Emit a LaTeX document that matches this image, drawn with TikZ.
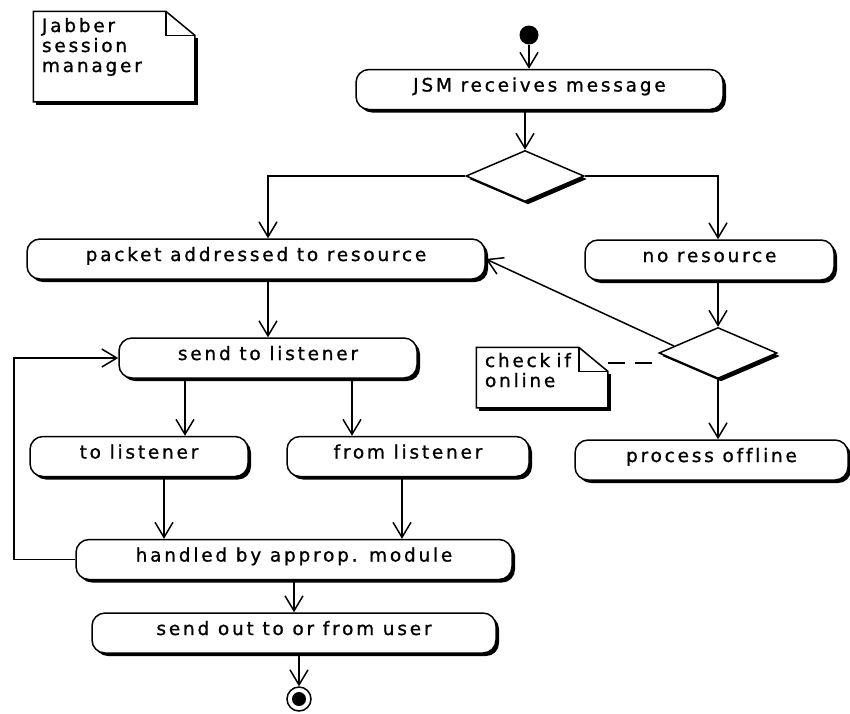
\documentclass[tikz,border=0pt]{standalone}
\usepackage{fontspec}
\setmainfont{DejaVu Sans}[LetterSpace=15, Ligatures=NoCommon, FakeBold=1]
\usetikzlibrary{positioning,shapes.geometric,shadows,arrows.meta}

\begin{document}
\begin{tikzpicture}[
			x=1pt, y=-1pt, line width=1.5pt, on grid,
			font=\fontsize{18.5}{20}\selectfont,
			>={Straight Barb[length=15pt,width=18pt]},
			% 圆角的活动框, 带阴影
			actnode/.style={rectangle, draw=black, fill=white, rounded corners=13pt, minimum height=40pt, text height=12pt, text depth=8pt, drop shadow={shadow xshift=3pt, shadow yshift=-3pt, fill=black, opacity=1}},
			% 判断用的菱形
			decnode/.style={diamond, draw=black, fill=white, minimum width=118pt, minimum height=51pt, inner sep=0pt, drop shadow={shadow xshift=3pt, shadow yshift=-3pt, fill=black, opacity=1}},
			% 注释, 边框另外画
			notenode/.style={rectangle, inner xsep=8pt, inner ysep=0pt, align=left},
			% 开始和结束
			startnode/.style={circle, fill=black, minimum size=19pt, inner sep=0pt},
			stopnode/.style={circle, draw=black, fill=white, minimum size=24pt, inner sep=0pt, path picture={\fill[black] (path picture bounding box.center) circle (7pt);}},
			% 看不见的点, 用来画折线
			point/.style={coordinate, on grid}
		]
		\useasboundingbox (0,0) rectangle (850,713);

		%Nodes
		\node[notenode, text width=144pt, text height=20pt, text depth=69pt] (jabber) at (114,56.5) {Jabber\\session\\manager};
		\node[startnode]                        (start)     at (529,35)                                 {};
		\node[actnode, minimum width=367pt]     (jsm)       [below right=54.5pt and 10.5pt of start]    {JSM receives message};
		\node[decnode]                          (dec1)      [below left=86.5pt and 14.5pt of jsm]       {};
		\node[actnode, minimum width=458pt]     (packet)    [below left=83pt and 269pt of dec1]         {packet addressed to resource};
		\node[actnode, minimum width=249pt]     (nores)     [below right=84pt and 184.5pt of dec1]      {no resource};
		\node[actnode, minimum width=298pt]     (sendlst)   [below right=99pt and 12pt of packet]       {send to listener};
		\node[decnode]                          (dec2)      [below right=93pt and 8.5pt of nores]       {};
		\node[actnode, minimum width=273pt]     (offline)   [below left=107pt and 6.5pt of dec2]        {process offline};
		\node[notenode, text width=114pt, text height=19pt, text depth=40pt] (online) [below left=24.5pt and 176pt of dec2] {check if\\online};
		\node[actnode, minimum width=218pt]     (tolst)     [below left=98.5pt and 129pt of sendlst]    {to listener};
		\node[actnode, minimum width=242pt]     (fromlst)   [below right=98.5pt and 140pt of sendlst]   {from listener};
		\node[actnode, minimum width=436pt]     (handled)   [below right=103pt and 155pt of tolst]      {handled by approp. module};
		\node[actnode, minimum width=404pt]     (sendout)   [below=73.5pt of handled]                   {send out to or from user};
		\node[stopnode]                         (stop)      [below right=66pt and 5pt of sendout]       {};
		\node[point]                            (point1)    [left=280pt of handled]                     {};
		\coordinate (link) at ([yshift=-10pt]dec2.west);

		% 注释的折角和阴影
		\foreach \nt in {jabber,online} {
			\draw (\nt.north west) -- ([xshift=-29pt]\nt.north east) -- ([yshift=-24pt]\nt.north east) -- (\nt.south east) -- (\nt.south west) -- cycle;
			\draw ([xshift=-29pt]\nt.north east) |- ([yshift=-24pt]\nt.north east);
			\fill ([yshift=-27pt]\nt.north east) rectangle ([xshift=3pt,yshift=-3pt]\nt.south east);
			\fill ([xshift=3pt]\nt.south west) rectangle ([xshift=3pt,yshift=-3pt]\nt.south east);
		}

		%Lines
		\draw[->] (start)                           --  (start |- jsm.north);
		\draw[->] (dec1.north |- jsm.south)         --  (dec1.north);
		\draw[->] (dec1.west)                       -|  (packet.north -| sendlst);
		\draw[->] (dec1.east)                       -|  (nores.north -| dec2);
		\draw[->] (packet.south -| sendlst)         --  (sendlst.north);
		\draw[->] (nores.south -| dec2)             --  (dec2.north);
		\draw[->] (dec2.south)                      --  (offline.north -| dec2);
		\draw[->] (dec2.171)                        --  (packet.east);
		\draw[dash pattern=on 17pt off 10pt] (online.east |- link) -- (link);
		\draw[->] ([xshift=46pt]tolst.north |- sendlst.south)   --  ([xshift=46pt]tolst.north);
		\draw[->] ([xshift=-56pt]fromlst.north |- sendlst.south) --  ([xshift=-56pt]fromlst.north);
		\draw[->] ([xshift=25pt]tolst.south)        --  ([xshift=25pt]tolst.south |- handled.north);
		\draw[->] ([xshift=-6pt]fromlst.south)      --  ([xshift=-6pt]fromlst.south |- handled.north);
		\draw[->] (handled.south)                   --  (handled.south |- sendout.north);
		\draw[->] (sendout.south -| stop)           --  (stop);
		% 回到 send to listener 的折线
		\draw[->] (handled.west)                    --  (point1)    |-  (sendlst.west);
	\end{tikzpicture}
\end{document}
